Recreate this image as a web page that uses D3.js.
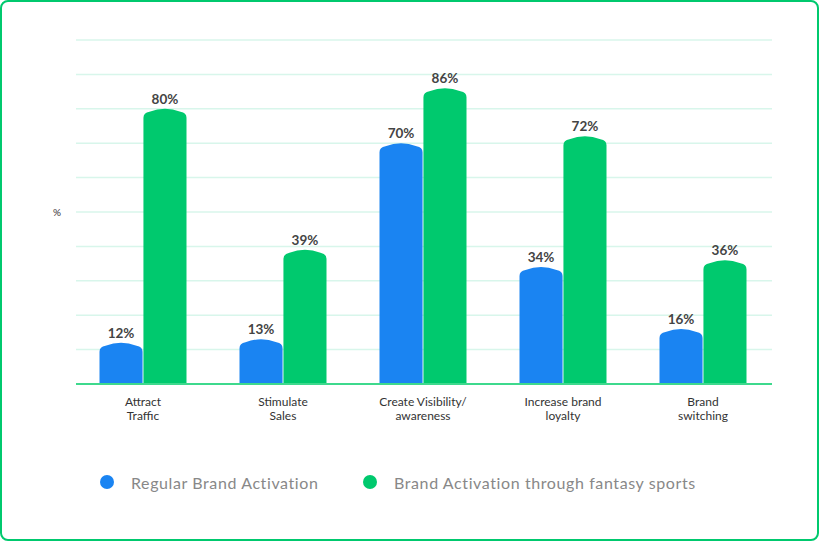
<!DOCTYPE html>
<html><head><meta charset="utf-8">
<script src="https://cdn.jsdelivr.net/npm/d3@7"></script>
<style>
html,body{margin:0;padding:0;background:#fff;}
svg{display:block;font-family:Lato,"Open Sans",sans-serif;}
</style></head><body>
<svg id="c" width="820" height="542"></svg>
<script>
const categories = ["Attract\nTraffic","Stimulate\nSales","Create Visibility/\nawareness","Increase brand\nloyalty","Brand\nswitching"];
const regular = [12,13,70,34,16];
const fantasy = [80,39,86,72,36];
const seriesNames = ["Regular Brand Activation","Brand Activation through fantasy sports"];
const colors = ["#1a84f2","#00c96e"];
const yTicks = [10,20,30,40,50,60,70,80,90,100];

const svg = d3.select("#c");
svg.append("rect").attr("x",1).attr("y",1).attr("width",817).attr("height",539)
  .attr("rx",7).attr("fill","#fff").attr("stroke","#00c96e").attr("stroke-width",2);

const x = d3.scaleBand().domain(categories).range([73,773]);
const xs = d3.scaleBand().domain([0,1]).range([x.bandwidth()/2-43.5, x.bandwidth()/2+43.5]).paddingInner(0.02);
const y = d3.scaleLinear().domain([0,100]).range([384,40]);

svg.append("g").selectAll("line").data(yTicks).join("line")
  .attr("x1",76).attr("x2",772).attr("y1",d=>y(d)).attr("y2",d=>y(d))
  .attr("stroke","#d8f6eb").attr("stroke-width",1.5);

svg.append("text").attr("x",57).attr("y",216).attr("text-anchor","middle")
  .attr("font-size",10).attr("fill","#333").text("%");

function barPath(x0,w,yp,base){
  const x1=x0+w, xc=x0+w/2;
  return `M${x0},${base}V${yp+9}Q${x0},${yp+4} ${x0+6},${yp+3}Q${xc},${yp-3} ${x1-6},${yp+3}Q${x1},${yp+4} ${x1},${yp+9}V${base}Z`;
}

const data = [];
categories.forEach((c,i)=>{
  data.push({c,s:0,v:regular[i]});
  data.push({c,s:1,v:fantasy[i]});
});

const g = svg.append("g");
g.selectAll("path").data(data).join("path")
  .attr("d",d=>barPath(x(d.c)+xs(d.s), xs.bandwidth(), y(d.v), 384))
  .attr("fill",d=>colors[d.s]);

g.selectAll("text").data(data).join("text")
  .attr("x",d=>x(d.c)+xs(d.s)+xs.bandwidth()/2)
  .attr("y",d=>y(d.v)-5)
  .attr("text-anchor","middle").attr("font-size",13.5).attr("font-weight","bold")
  .attr("fill","#444").text(d=>d.v+"%");

svg.append("line").attr("x1",76).attr("x2",772).attr("y1",384).attr("y2",384)
  .attr("stroke","#3ed98d").attr("stroke-width",2);

const xl = svg.append("g");
categories.forEach(c=>{
  const t = xl.append("text").attr("text-anchor","middle").attr("font-size",12).attr("fill","#333");
  c.split("\n").forEach((ln,j)=>{
    t.append("tspan").attr("x",x(c)+x.bandwidth()/2).attr("y",406+j*13.5).text(ln);
  });
});

const leg = [{cx:107,tx:131},{cx:370,tx:394}];
seriesNames.forEach((n,i)=>{
  svg.append("circle").attr("cx",leg[i].cx).attr("cy",482).attr("r",7).attr("fill",colors[i]);
  svg.append("text").attr("x",leg[i].tx).attr("y",489).attr("font-size",16)
    .attr("letter-spacing",0.6).attr("fill","#888").text(n);
});
</script>
</body></html>
